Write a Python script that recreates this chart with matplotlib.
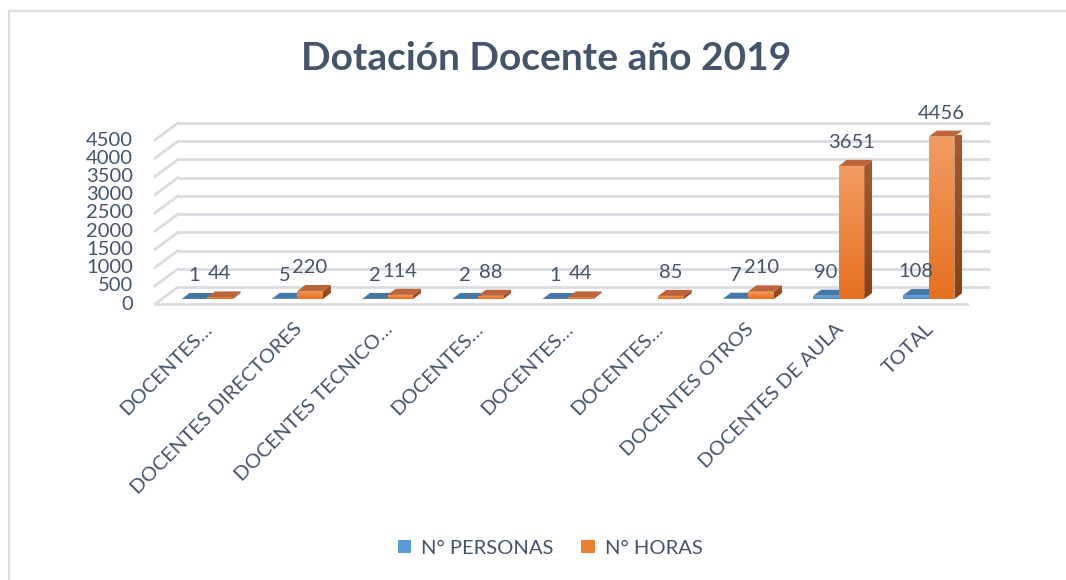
import numpy as np
import matplotlib
matplotlib.use('Agg')
import matplotlib.pyplot as plt
from matplotlib.patches import Polygon, Patch, Rectangle
from matplotlib.colors import LinearSegmentedColormap
import matplotlib.transforms as mtransforms

# ---------------- data ----------------
title = "Dotación Docente año 2019"
categories = ["DOCENTES…", "DOCENTES DIRECTORES", "DOCENTES TECNICO…",
              "DOCENTES…", "DOCENTES…", "DOCENTES…", "DOCENTES OTROS",
              "DOCENTES DE AULA", "TOTAL"]
personas = [1, 5, 2, 2, 1, None, 7, 90, 108]
horas = [44, 220, 114, 88, 44, 85, 210, 3651, 4456]
series_names = ["N° PERSONAS", "N° HORAS"]
y_ticks = [0, 500, 1000, 1500, 2000, 2500, 3000, 3500, 4000, 4500]

# ---------------- style ----------------
W, H, DPI = 1066, 580, 100
TEXT = '#44546A'
GRID = '#D9DCE1'
BLUE = dict(front_top='#6AA8E0', front_bot='#4F8CC9', top='#4677A9',
            side_top='#2F5E8E', side_bot='#2F5E8E', legend='#5B9BD5')
ORANGE = dict(front_top='#F39C62', front_bot='#E6701F', top='#BC653A',
              side_top='#A65A2E', side_bot='#8E3F12', legend='#ED7D31')
plt.rcParams['font.family'] = ['Lato', 'DejaVu Sans']

fig = plt.figure(figsize=(W / DPI, H / DPI), dpi=DPI)
fig.patch.set_facecolor('white')
fig.add_artist(Rectangle((9 / W, -0.1), 1.2, 1 - 11 / H + 0.1, transform=fig.transFigure,
                         fill=False, edgecolor='#DADDE2', lw=1.6))

ax = fig.add_axes([162 / W, (H - 299) / H, (974 - 162) / W, (299 - 135) / H])
n = len(categories)
ax.set_xlim(-0.5, n - 0.5)
ax.set_ylim(0, 4500)
ax.axis('off')


def off(dx, dy):
    """data transform shifted by dx, dy pixels (y up)"""
    return ax.transData + mtransforms.ScaledTranslation(dx / DPI, dy / DPI, fig.dpi_scale_trans)


p0 = ax.transData.transform((0, 0))
p1 = ax.transData.transform((1, 1))
pxx, pxy = p1[0] - p0[0], p1[1] - p0[1]   # pixels per data unit

# back wall gridlines + left side diagonals
BACK = (16, 12)
FRONT = (-7, -5)
for v in y_ticks:
    ax.plot([-0.5, n - 0.5], [v, v], transform=off(*BACK), color=GRID, lw=2.0,
            clip_on=False, zorder=0, solid_capstyle='butt')
    ax.plot([-0.5, -0.5 + (BACK[0] - FRONT[0]) / pxx], [v, v + (BACK[1] - FRONT[1]) / pxy],
            transform=off(*FRONT), color=GRID, lw=2.0, clip_on=False, zorder=0)
    ax.annotate(str(v), xy=(-0.5, v), xytext=((FRONT[0] - 22) * 72 / DPI, FRONT[1] * 72 / DPI),
                textcoords='offset points', ha='right', va='center', fontsize=14.5,
                color=TEXT, annotation_clip=False)
# front floor edge
ax.plot([-0.5, n - 0.5], [0, 0], transform=off(*FRONT), color=GRID, lw=2.0,
        clip_on=False, zorder=0)


def grad_fill(verts, ctop, cbot, z):
    verts = np.asarray(verts, dtype=float)
    patch = Polygon(verts, closed=True, facecolor='none', edgecolor='none', zorder=z,
                    clip_on=False)
    ax.add_patch(patch)
    cmap = LinearSegmentedColormap.from_list('g', [cbot, ctop])
    grad = np.linspace(0, 1, 64).reshape(-1, 1)
    im = ax.imshow(grad, extent=(verts[:, 0].min(), verts[:, 0].max(),
                                 verts[:, 1].min(), verts[:, 1].max()),
                   origin='lower', aspect='auto', cmap=cmap, zorder=z,
                   interpolation='bilinear')
    im.set_clip_path(patch)
    im.set_clip_box(None)


w = 0.283
ddx, ddy = 8 / pxx, 6 / pxy
xs = np.arange(n)
pers = np.array([np.nan if v is None else v for v in personas], dtype=float)
hrs = np.array(horas, dtype=float)

for k, (vals, st, shift) in enumerate([(pers, BLUE, -w / 2), (hrs, ORANGE, w / 2)]):
    z = 3 + k
    bars = ax.bar(xs + shift, np.nan_to_num(vals), w, color=st['front_bot'], zorder=z,
                  linewidth=0, clip_on=False)
    for i, (b, v) in enumerate(zip(bars, vals)):
        if np.isnan(v):
            b.set_visible(False)
            continue
        x0, x1 = b.get_x(), b.get_x() + b.get_width()
        h = b.get_height()
        grad_fill([(x0, 0), (x1, 0), (x1, h), (x0, h)], st['front_top'], st['front_bot'], z)
        grad_fill([(x1, 0), (x1 + ddx, ddy), (x1 + ddx, h + ddy), (x1, h)],
                  st['side_top'], st['side_bot'], z)
        ax.add_patch(Polygon([(x0, h), (x1, h), (x1 + ddx, h + ddy), (x0 + ddx, h + ddy)],
                             closed=True, facecolor=st['top'], edgecolor='none', zorder=z,
                             clip_on=False))
        ax.annotate(f"{int(v)}", xy=((x0 + x1) / 2, h), xytext=(0, 18 * 72 / DPI),
                    textcoords='offset points', ha='center', va='baseline', fontsize=14.5,
                    color=TEXT, annotation_clip=False, zorder=10)

ax.set_xlim(-0.5, n - 0.5)
ax.set_ylim(0, 4500)

# category labels
for i, c in enumerate(categories):
    ax.annotate(c, xy=(i, 0), xytext=(-4 * 72 / DPI, -21 * 72 / DPI),
                textcoords='offset points', ha='right', va='top', rotation=45,
                rotation_mode='anchor', fontsize=14.5, color=TEXT, annotation_clip=False)

# title
fig.text(546 / W, 1 - 58 / H, title, ha='center', va='center', fontsize=28,
         fontweight='bold', color=TEXT)

# legend
handles = [Patch(facecolor=BLUE['legend'], edgecolor='none'),
           Patch(facecolor=ORANGE['legend'], edgecolor='none')]
leg = fig.legend(handles, series_names, loc='center', bbox_to_anchor=(550 / W, 1 - 548 / H),
                 ncol=2, frameon=False, fontsize=14.5, handlelength=0.65, handleheight=0.65,
                 handletextpad=0.5, columnspacing=1.4)
for t in leg.get_texts():
    t.set_color(TEXT)

fig.savefig('out.png', dpi=DPI)
